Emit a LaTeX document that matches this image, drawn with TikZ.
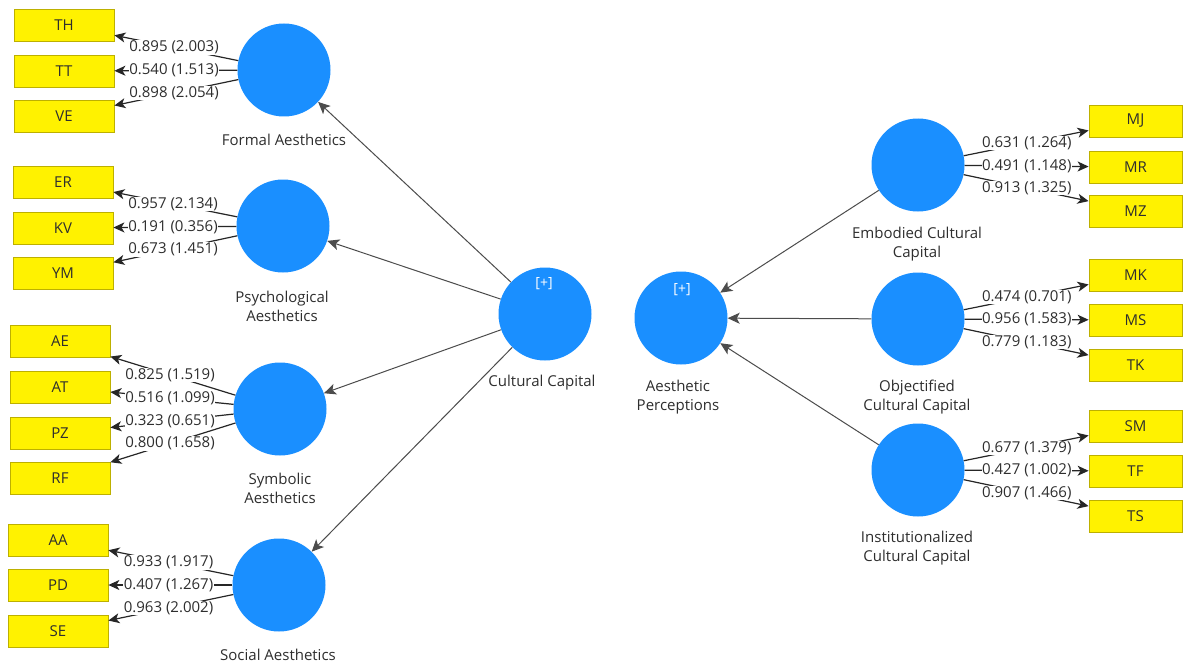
\documentclass[tikz,border=0pt]{standalone}
\usepackage{fontspec}
\setmainfont{Open Sans}
\usetikzlibrary{arrows.meta,calc}
\definecolor{lvblue}{HTML}{1A8FFF}
\definecolor{boxborder}{HTML}{BDB000}
\definecolor{txt}{HTML}{2E2E2E}
\begin{document}
\begin{tikzpicture}[x=1pt,y=-1pt,
 lv/.style={circle,fill=lvblue,minimum size=93pt,inner sep=0pt},
 mv/.style={rectangle,fill=yellow,draw=boxborder,line width=0.8pt,minimum width=100pt,minimum height=32pt,inner sep=0pt,font=\fontsize{15}{17}\selectfont,text=txt},
 mvr/.style={mv,minimum width=93pt},
 ld/.style={draw=black!85,line width=1.2pt,-{Stealth[length=11pt,width=10pt,inset=3pt]}},
 pth/.style={line width=1pt,-{Stealth[length=12pt,width=11pt,inset=3pt]},draw=black!70},
 lbl/.style={fill=white,inner sep=0.5pt,font=\fontsize{15}{17}\selectfont,text=txt},
 lvname/.style={font=\fontsize{15}{19}\selectfont,align=center,text=txt},
 plus/.style={font=\fontsize{14}{16}\selectfont,text=white}
]
\useasboundingbox (0,0) rectangle (1183,666);
\fill[white] (0,0) rectangle (1183,666);
\clip (0,0) rectangle (1183,666);

% latent variables
\node[lv] (fa) at (284,70) {};
\node[lv] (pa) at (283,226) {};
\node[lv] (sa) at (280,409) {};
\node[lv] (so) at (279,585) {};
\node[lv] (cc) at (545,314) {};
\node[lv] (ap) at (681,318) {};
\node[lv] (ec) at (918,165) {};
\node[lv] (oc) at (918,319) {};
\node[lv] (ic) at (918,470) {};

\node[plus] (ccplus) at (544,284) {[+]};
\node[plus] (applus) at (682,290) {[+]};

\node[lvname] (faname) at (284,140) {Formal Aesthetics};
\node[lvname] (paname) at (282,306) {Psychological\\Aesthetics};
\node[lvname] (saname) at (280,488) {Symbolic\\Aesthetics};
\node[lvname] (soname) at (278,655) {Social Aesthetics};
\node[lvname] (ccname) at (542,383) {Cultural Capital};
\node[lvname] (apname) at (678,397) {Aesthetic\\Perceptions};
\node[lvname] (ecname) at (917,244) {Embodied Cultural\\Capital};
\node[lvname] (ocname) at (917,397) {Objectified\\Cultural Capital};
\node[lvname] (icname) at (917,548) {Institutionalized\\Cultural Capital};

% indicators left
\node[mv] (th) at (64,25) {TH};
\node[mv] (tt) at (64,71) {TT};
\node[mv] (ve) at (64,116) {VE};
\node[mv] (er) at (63,182) {ER};
\node[mv] (kv) at (63,228) {KV};
\node[mv] (ym) at (63,273) {YM};
\node[mv] (ae) at (60,341) {AE};
\node[mv] (at) at (60,387) {AT};
\node[mv] (pz) at (60,433) {PZ};
\node[mv] (rf) at (60,478) {RF};
\node[mv] (aa) at (58,540) {AA};
\node[mv] (pd) at (58,585) {PD};
\node[mv] (se) at (58,631) {SE};
% indicators right
\node[mvr] (mj) at (1135.5,121) {MJ};
\node[mvr] (mr) at (1135.5,167) {MR};
\node[mvr] (mz) at (1135.5,211) {MZ};
\node[mvr] (mk) at (1135.5,275) {MK};
\node[mvr] (ms) at (1135.5,320) {MS};
\node[mvr] (tk) at (1135.5,365) {TK};
\node[mvr] (sm) at (1135.5,426) {SM};
\node[mvr] (tf) at (1135.5,471) {TF};
\node[mvr] (ts) at (1135.5,516) {TS};

% structural paths
\draw[pth] (cc) -- (fa);
\draw[pth] (cc) -- (pa);
\draw[pth] (cc) -- (sa);
\draw[pth] (cc) -- (so);
\draw[pth] (ec) -- (ap);
\draw[pth] (oc) -- (ap);
\draw[pth] (ic) -- (ap);

% loadings lines
\foreach \l/\m in {fa/th,fa/tt,fa/ve,pa/er,pa/kv,pa/ym,sa/ae,sa/at,sa/pz,sa/rf,so/aa,so/pd,so/se,ec/mj,ec/mr,ec/mz,oc/mk,oc/ms,oc/tk,ic/sm,ic/tf,ic/ts}
  \draw[ld] (\l) -- (\m);

% loading labels
\foreach \l/\m/\t in {fa/th/{0.895 (2.003)},fa/tt/{0.540 (1.513)},fa/ve/{0.898 (2.054)},
  pa/er/{0.957 (2.134)},pa/kv/{0.191 (0.356)},pa/ym/{0.673 (1.451)},
  sa/ae/{0.825 (1.519)},sa/at/{0.516 (1.099)},sa/pz/{0.323 (0.651)},sa/rf/{0.800 (1.658)},
  so/aa/{0.933 (1.917)},so/pd/{0.407 (1.267)},so/se/{0.963 (2.002)},
  ec/mj/{0.631 (1.264)},ec/mr/{0.491 (1.148)},ec/mz/{0.913 (1.325)},
  oc/mk/{0.474 (0.701)},oc/ms/{0.956 (1.583)},oc/tk/{0.779 (1.183)},
  ic/sm/{0.677 (1.379)},ic/tf/{0.427 (1.002)},ic/ts/{0.907 (1.466)}}
  \node[lbl] (lab-\m) at ($(\l)!0.5!(\m)$) {\t};
\end{tikzpicture}
\end{document}
